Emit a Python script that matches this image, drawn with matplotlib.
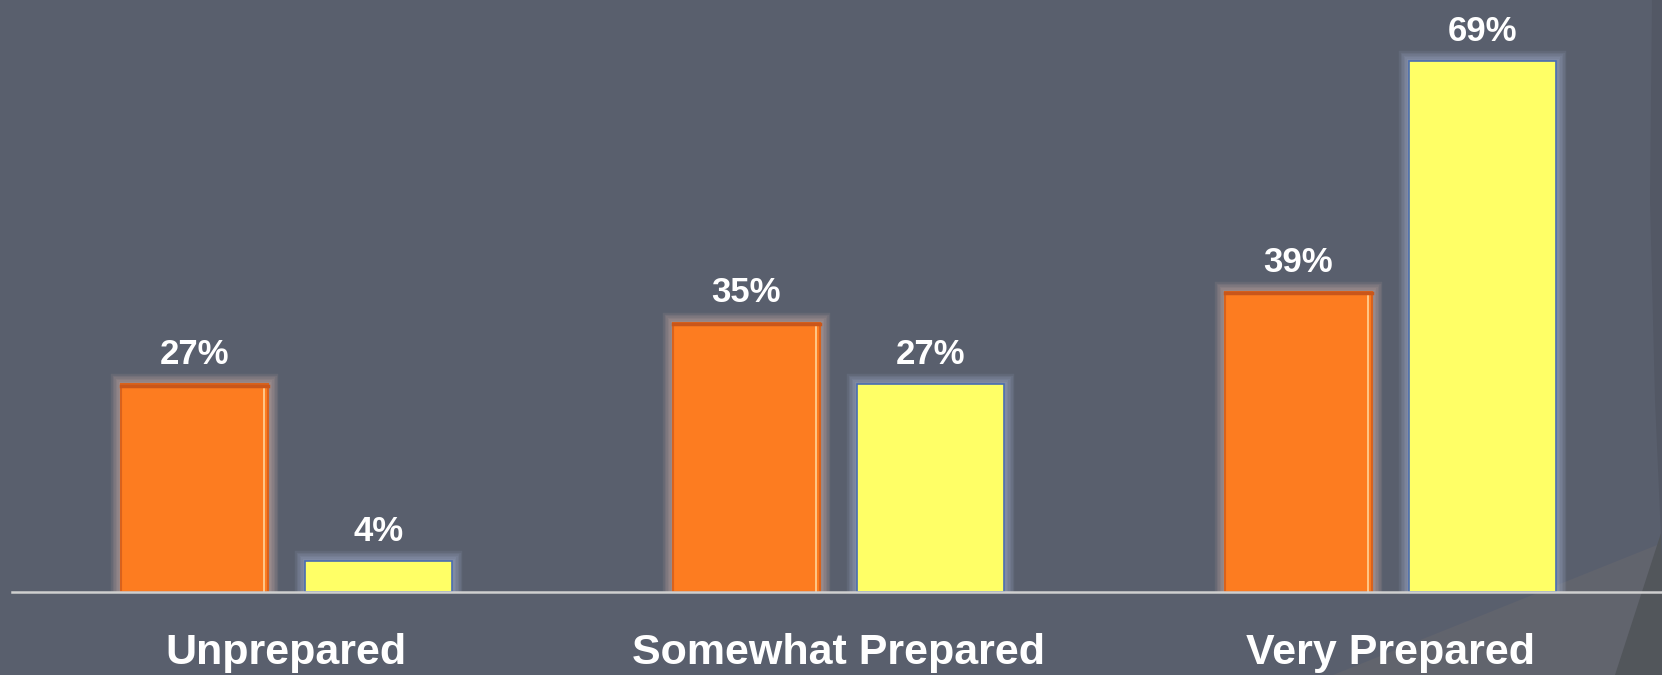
import matplotlib.pyplot as plt
import matplotlib.transforms as mtransforms
from matplotlib.patches import Polygon
import numpy as np

plt.rcParams['font.family'] = ['Liberation Sans', 'DejaVu Sans']

categories = ["Unprepared", "Somewhat Prepared", "Very Prepared"]
series_a = [27, 35, 39]
series_b = [4, 27, 69]
labels_a = ["27%", "35%", "39%"]
labels_b = ["4%", "27%", "69%"]

BG = "#595f6d"
ORANGE = "#fd7c20"
YELLOW = "#ffff66"

fig = plt.figure(figsize=(16.62, 6.75), dpi=100, facecolor=BG)

# slide background wedges in the lower right corner
W, H = 1662, 675
def px(pts):
    return [(x / W, 1 - y / H) for x, y in pts]
for pts, col in [([(1333, 675), (1662, 543), (1662, 675)], "#61646d"),
                 ([(1615, 675), (1662, 530), (1662, 675)], "#52565b"),
                 ([(1652, 0), (1662, 0), (1662, 560), (1655, 400), (1650, 200)], "#535865")]:
    fig.patches.append(Polygon(px(pts), closed=True, transform=fig.transFigure,
                               facecolor=col, edgecolor="none", zorder=-5))

ax = fig.add_axes([12 / W, (H - 592) / H, 1 - 12 / W, 592 / H])
ax.set_zorder(2)
ax.set_facecolor("none")
ax.set_xlim(-0.497, 2.492)
ax.set_ylim(0, 592 / 7.7)
ax.axis("off")

x = np.arange(len(categories))
w = 0.266
off = 0.1667

def glow_bars(xs, vals, color):
    for k in range(7):
        ax.bar(xs, vals, w, fill=False, edgecolor=color,
               linewidth=1.5 + 2.2 * k, alpha=0.09, zorder=1)

glow_bars(x - off, series_a, "#f0c8b8")
glow_bars(x + off, series_b, "#b8c8ec")

ax.bar(x - off, series_a, w, color=ORANGE, edgecolor="#d9621c", linewidth=1.5, zorder=3)
ax.bar(x + off, series_b, w, color=YELLOW, edgecolor="#4a6db0", linewidth=1.2, zorder=3)

# bevel details on the orange bars
for xi, v in zip(x - off, series_a):
    ax.plot([xi + w / 2 - 0.006, xi + w / 2 - 0.006], [0, v - 0.4],
            color="#ffd49a", linewidth=1.2, zorder=4)
    ax.plot([xi - w / 2, xi + w / 2], [v - 0.2, v - 0.2],
            color="#c9561a", linewidth=2.5, zorder=4)

ax.axhline(0, color="#cfcfcf", linewidth=1.8, zorder=5, clip_on=False)

for xi, v, t in zip(x - off, series_a, labels_a):
    ax.annotate(t, (xi, v), xytext=(0, 14.4), textcoords="offset points",
                ha="center", va="baseline", color="white",
                fontsize=25, fontweight="bold")
for xi, v, t in zip(x + off, series_b, labels_b):
    ax.annotate(t, (xi, v), xytext=(0, 14.4), textcoords="offset points",
                ha="center", va="baseline", color="white",
                fontsize=25, fontweight="bold")

trans = mtransforms.blended_transform_factory(ax.transData, fig.transFigure)
for xi, c in zip(x, categories):
    ax.text(xi, (H - 664) / H, c, transform=trans, ha="center", va="baseline",
            color="white", fontsize=31, fontweight="bold", clip_on=False)

fig.savefig("out.png", dpi=100, facecolor=BG)
